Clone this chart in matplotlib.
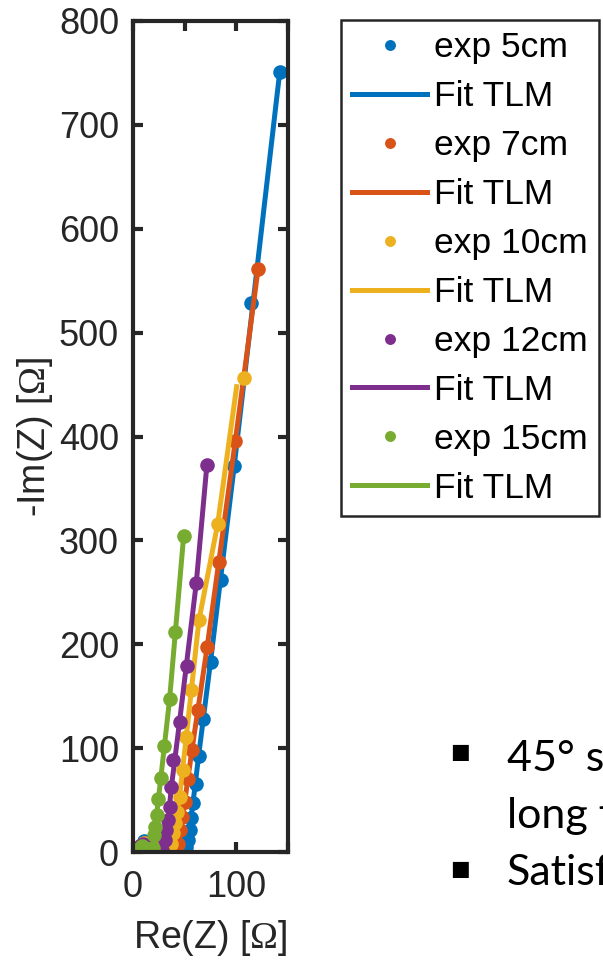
import numpy as np
import matplotlib.pyplot as plt

plt.rcParams['font.family'] = ['Liberation Sans', 'DejaVu Sans']
plt.rcParams['mathtext.fontset'] = 'custom'
plt.rcParams['mathtext.rm'] = 'Liberation Serif'

# measured spectra (Re, -Im) and TLM fit, one pair per cell length
labels = ['5cm', '7cm', '10cm', '12cm', '15cm']
colors = ['#0072BD', '#D95319', '#EDB120', '#7E2F8E', '#77AC30']

exp_re = [
    [4, 7, 11, 16, 22, 30, 38, 45, 49, 51.5, 53.2, 54.8, 56.4, 58, 60.6, 63.5, 67.6, 75, 85, 98, 114, 142],
    [4, 7, 11, 16, 22, 29, 36, 41, 43.5, 45.8, 47.8, 50, 53.2, 57, 62.8, 71.8, 83, 99, 121],
    [4, 7, 11, 16, 22, 28, 33, 36.5, 39, 41, 43, 45.2, 48.4, 51.6, 56.4, 63.8, 82, 107.7],
    [4, 7, 10, 14, 19, 24, 28, 30.8, 32.4, 34, 35.6, 37.2, 39, 45, 52.6, 61.2, 71.5],
    [4, 6.5, 9, 12, 16, 19, 20.5, 21.2, 22.8, 24.3, 26.9, 30, 35.4, 40.8, 49],
]
exp_im = [
    [1, 6, 11, 8, 4, 1.5, 0.5, 0.5, 1.5, 5, 11.5, 21, 33, 46.7, 65, 92.6, 128.5, 183, 262, 372, 529, 751],
    [1, 6, 9, 7, 3.5, 1.5, 0.5, 1, 8, 21, 34, 48.3, 70, 98, 137, 197.5, 279, 395.6, 561],
    [1, 6, 9, 7, 3, 1, 0.5, 8, 18, 27.5, 38.7, 53, 79.4, 111, 156, 223, 316, 456],
    [1, 6, 8, 6, 3, 1, 2, 11.5, 21, 31, 43.5, 63, 88.5, 125, 179, 258.6, 372.5],
    [1, 4, 6, 4, 2, 4, 16, 24.4, 35.6, 50.6, 71, 102, 147, 212, 304],
]
fit_re = [
    [3, 6, 10, 15, 22, 30, 40, 48, 51, 54, 58, 63.5, 75, 98, 142],
    [3, 6, 10, 15, 22, 30, 38, 42, 45, 50, 57, 71.8, 99, 121],
    [3, 6, 10, 15, 22, 29, 34, 37, 41, 45, 51.6, 63.8, 82, 100.3],
    [3, 6, 10, 14, 19, 24, 28, 31, 34, 37.2, 45, 61.2, 71.5],
    [3, 6, 9, 12, 16, 19, 20.5, 22.8, 26.9, 35.4, 49],
]
fit_im = [
    [0, 5, 10, 8, 4, 1.5, 0.5, 1, 5, 18, 46.7, 92.6, 183, 372, 751],
    [0, 5, 9, 7, 3.5, 1.5, 0.5, 2, 15, 48, 98, 197.5, 395.6, 561],
    [0, 5, 9, 7, 3, 1, 1, 10, 27.5, 53, 111, 223, 316, 448],
    [0, 5, 8, 6, 3, 1, 2, 12, 31, 63, 125, 258.6, 372.5],
    [0, 4, 6, 4, 2, 4, 16, 35.6, 71, 147, 304],
]

xticks = [0, 50, 100, 150]
xticklabels = ['0', '', '100', '']
yticks = [0, 100, 200, 300, 400, 500, 600, 700, 800]

# slide bullets beside the chart, cut by the right edge as in the slide
bullet_lines = ['45\u00b0 st', 'long t', 'Satisf']

fig = plt.figure(figsize=(6.03, 9.66), dpi=100)
ax = fig.add_axes([133 / 603, 1 - 852 / 966, 155 / 603, 831 / 966])

handles = []
for i in range(len(labels)):
    h1, = ax.plot(exp_re[i], exp_im[i], 'o', ms=10.5, color=colors[i], mec='none',
                  label='exp ' + labels[i])
    h2, = ax.plot(fit_re[i], fit_im[i], '-', lw=3.6, color=colors[i], label='Fit TLM')
    handles += [h1, h2]

ax.set_xlim(0, 150)
ax.set_ylim(0, 800)
ax.set_xticks(xticks)
ax.set_xticklabels(xticklabels)
ax.set_yticks(yticks)

dark = '#262626'
for s in ax.spines.values():
    s.set_linewidth(3)
    s.set_color(dark)
ax.tick_params(direction='in', length=7, width=3, colors=dark, labelsize=26,
               top=True, right=True)
ax.tick_params(axis='x', pad=13)
ax.tick_params(axis='y', pad=10)
ax.set_xlabel(r'Re(Z) [$\mathrm{\Omega}$]', fontsize=27, color=dark, labelpad=9)
ax.set_ylabel(r'-Im(Z) [$\mathrm{\Omega}$]', fontsize=27, color=dark, labelpad=3)

leg = fig.legend(handles=handles, loc='upper left',
                 bbox_to_anchor=(341 / 603, 1 - 20 / 966), fontsize=25.5,
                 frameon=True, fancybox=False, edgecolor=dark, framealpha=1,
                 handlelength=2.1, handletextpad=0.2, labelspacing=0.45,
                 borderpad=0.32, borderaxespad=0, markerscale=0.75)
leg.get_frame().set_linewidth(1.8)

for by in [1 - 752 / 966, 1 - 869 / 966]:
    fig.text(450 / 603, by, '\u25a0', fontsize=15, family='DejaVu Sans',
             va='center', ha='left')
for k, txt in enumerate(bullet_lines):
    fig.text(507 / 603, 1 - (771 + 57 * k) / 966, txt, fontsize=31,
             family='Lato', va='baseline')

fig.savefig('out.png', dpi=100)
